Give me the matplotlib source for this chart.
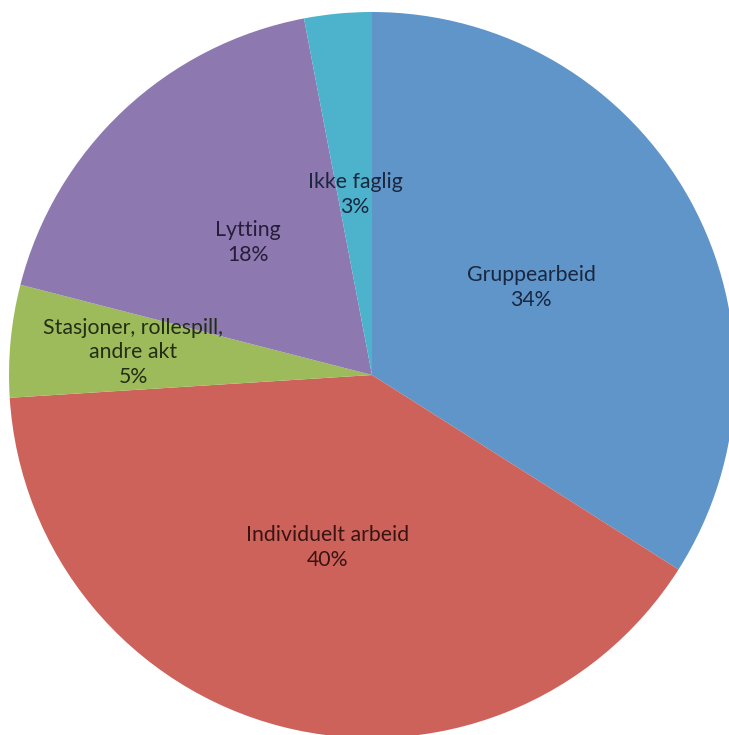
import numpy as np
import matplotlib
matplotlib.use("Agg")
import matplotlib.pyplot as plt

# ─── Data ─────────────────────────────────────────────────────────────────────
labels = ["Gruppearbeid", "Individuelt arbeid", "Stasjoner, rollespill,\nandre akt",
          "Lytting", "Ikke faglig"]
values = [34, 40, 5, 18, 3]

# ─── Style ────────────────────────────────────────────────────────────────────
colors      = ["#5f95c9", "#cd625b", "#9dbb5b", "#8e78b0", "#4db2cc"]
text_colors = ["#1a2740", "#3a1412", "#222e16", "#261d3b", "#1b2740"]
label_r     = [0.50, 0.49, 0.66, 0.50, 0.50]

W, H = 729, 735
CX, CY, R = 372, 375, 363   # pie centre / radius in pixels

fig = plt.figure(figsize=(W / 100, H / 100), dpi=100, facecolor="white")
ax = fig.add_axes([0, 0, 1, 1])

wedges, _ = ax.pie(values, colors=colors, startangle=90, counterclock=False,
                   radius=1.0, center=(0, 0), frame=True,
                   wedgeprops=dict(linewidth=0))
ax.set_aspect("equal")
ax.set_xlim(-CX / R, (W - CX) / R)
ax.set_ylim(-(H - CY) / R, CY / R)
ax.axis("off")

total = sum(values)
for w, lab, v, tc, r in zip(wedges, labels, values, text_colors, label_r):
    mid = np.deg2rad((w.theta1 + w.theta2) / 2)
    ax.text(r * np.cos(mid), r * np.sin(mid), f"{lab}\n{round(100 * v / total)}%",
            ha="center", va="center", fontsize=15.3, color=tc,
            family="Lato", linespacing=1.3)

fig.savefig("out.png", dpi=100)
